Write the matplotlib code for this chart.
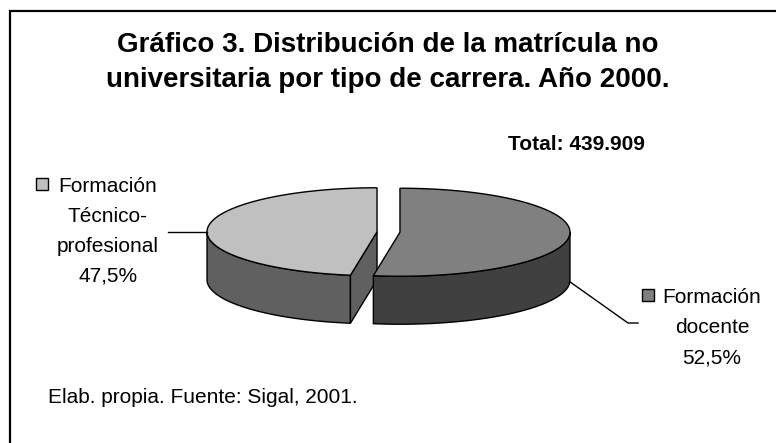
import matplotlib.pyplot as plt
import numpy as np
from matplotlib.patches import Polygon, Rectangle

plt.rcParams['font.family'] = ['Liberation Sans', 'DejaVu Sans']

# data
categories = ['Formación\nTécnico-\nprofesional', 'Formación\ndocente']
shares = [47.5, 52.5]
pct_labels = ['47,5%', '52,5%']
top_colors = ['#c0c0c0', '#808080']
side_colors = ['#606060', '#404040']
title_lines = ['Gráfico 3. Distribución de la matrícula no',
               'universitaria por tipo de carrera. Año 2000.']
total_label = 'Total: 439.909'
source = 'Elab. propia. Fuente: Sigal, 2001.'

W, H = 776, 443
fig = plt.figure(figsize=(W / 100, H / 100), dpi=100)
ax = fig.add_axes([0, 0, 1, 1])
ax.set_xlim(0, W)
ax.set_ylim(H, 0)
ax.axis('off')

# chart frame (only top and left edges are visible)
ax.plot([10, 10, W], [H, 11, 11], color='black', lw=1.6, solid_joinstyle='miter')

# pseudo 3D pie in pixel space
cx, cy = 388.5, 232
rx, ry, depth = 170, 44, 48
explode = 11.5
lw = 1.0


def rim(c, a, dz=0.0):
    return np.column_stack([c[0] + rx * np.cos(a), c[1] - ry * np.sin(a) + dz])


angles = np.deg2rad(90 + 360 * np.concatenate([[0], np.cumsum(shares)]) / 100)
centres = []
for i in range(len(shares)):
    a0, a1 = angles[i], angles[i + 1]
    mid = (a0 + a1) / 2
    c = (cx + explode * np.cos(mid), cy - explode * np.sin(mid) * ry / rx)
    centres.append(c)

    # outer wall, front half only
    for k in range(-1, 2):
        lo = max(a0, np.pi + 2 * np.pi * k)
        hi = min(a1, 2 * np.pi + 2 * np.pi * k)
        if hi > lo:
            t = np.linspace(lo, hi, 120)
            pts = np.vstack([rim(c, t), rim(c, t[::-1], depth)])
            ax.add_patch(Polygon(pts, closed=True, fc=side_colors[i], ec='black', lw=lw))

    # cut faces facing the viewer
    for a, nrm in [(a0, a0 - np.pi / 2), (a1, a1 + np.pi / 2)]:
        if np.sin(nrm) < -1e-6:
            p = rim(c, np.array([a]))[0]
            pts = [c, p, (p[0], p[1] + depth), (c[0], c[1] + depth)]
            ax.add_patch(Polygon(pts, closed=True, fc=side_colors[i], ec='black', lw=lw))

    # top face
    t = np.linspace(a0, a1, 200)
    pts = np.vstack([[c], rim(c, t)])
    ax.add_patch(Polygon(pts, closed=True, fc=top_colors[i], ec='black', lw=lw,
                         joinstyle='miter'))

# leader lines
left_pt = rim(centres[0], np.array([np.pi]))[0]
ax.plot([168, left_pt[0]], [left_pt[1], left_pt[1]], color='black', lw=1.0)
right_pt = rim(centres[1], np.array([np.deg2rad(-2)]), depth)[0]
ax.plot([right_pt[0], 628, 638], [right_pt[1], 323, 323], color='black', lw=1.0)

# data labels with legend keys
fs = 15
label_spots = [(108, 192, 36, 178), (712, 303, 642, 289)]
for i, (lx, ly, sx, sy) in enumerate(label_spots):
    lines = categories[i].split('\n') + [pct_labels[i]]
    for j, line in enumerate(lines):
        ax.text(lx, ly + 30 * j, line, fontsize=fs, ha='center', va='baseline')
    ax.add_patch(Rectangle((sx, sy), 12, 12, fc=top_colors[i], ec='black', lw=1.0))

# titles and notes
for j, line in enumerate(title_lines):
    ax.text(388, 52 + 35 * j, line, fontsize=20, fontweight='bold',
            ha='center', va='baseline')
ax.text(508, 150, total_label, fontsize=15, fontweight='bold', ha='left', va='baseline')
ax.text(48, 403, source, fontsize=15, ha='left', va='baseline')

fig.savefig('out.png', dpi=100)
